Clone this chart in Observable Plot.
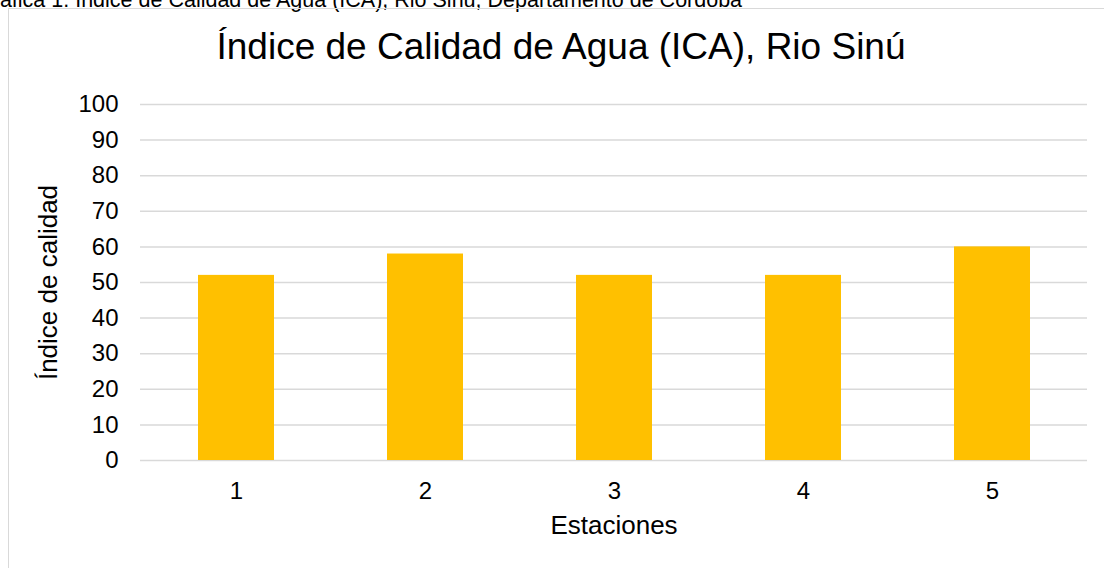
<!DOCTYPE html>
<html>
<head>
<meta charset="utf-8">
<script src="https://cdn.jsdelivr.net/npm/d3@7"></script>
<script src="https://cdn.jsdelivr.net/npm/@observablehq/plot@0.6"></script>
<style>
  html, body { margin: 0; padding: 0; background: #fff; overflow: hidden; }
  body { width: 1104px; height: 568px; position: relative; font-family: "Liberation Sans", Arial, sans-serif; }
  #caption { position: absolute; left: -24px; top: -12.5px; font-size: 21.5px; line-height: 24px; white-space: nowrap; color: #000; }
  #frame { position: absolute; left: 8px; top: 8px; width: 1120px; height: 600px; border: 1px solid #d9d9d9; box-sizing: border-box; }
  #title { position: absolute; left: 0; width: 1122px; top: 25px; text-align: center; font-size: 37px; line-height: 44px; color: #000; white-space: nowrap; }
  #chart { position: absolute; left: 0; top: 0; }
</style>
</head>
<body>
<div id="caption">Gráfica 1. Índice de Calidad de Agua (ICA), Rio Sinú, Departamento de Córdoba</div>
<div id="frame"></div>
<div id="title">Índice de Calidad de Agua (ICA), Rio Sinú</div>
<div id="chart"></div>
<script>
const estaciones = ["1", "2", "3", "4", "5"];
const ica = [52, 58, 52, 52, 60];
const yTicks = [0, 10, 20, 30, 40, 50, 60, 70, 80, 90, 100];
const xTitle = "Estaciones";
const yTitle = "Índice de calidad";

const data = estaciones.map((e, i) => ({estacion: e, valor: ica[i]}));

const chart = Plot.plot({
  width: 1104,
  height: 568,
  marginLeft: 140,
  marginRight: 17,
  marginTop: 104,
  marginBottom: 108,
  style: {fontFamily: "Liberation Sans, Arial, sans-serif", color: "#000", background: "transparent", overflow: "visible"},
  x: {domain: estaciones, paddingInner: 0.6, paddingOuter: 0.3, label: null},
  y: {domain: [0, 100], label: null},
  marks: [
    Plot.gridY(yTicks, {stroke: "#d9d9d9", strokeOpacity: 1, strokeWidth: 1.5}),
    Plot.barY(data, {x: "estacion", y: "valor", fill: "#FFC000"}),
    Plot.axisY(yTicks, {tickSize: 0, tickPadding: 22, fontSize: 24, label: null}),
    Plot.axisX({tickSize: 0, tickPadding: 21, fontSize: 24, label: null}),
    Plot.text([yTitle], {frameAnchor: "left", textAnchor: "middle", lineAnchor: "middle", rotate: -90, dx: -92, fontSize: 26}),
    Plot.text([xTitle], {frameAnchor: "bottom", textAnchor: "middle", lineAnchor: "middle", dy: 65, fontSize: 26})
  ]
});
document.getElementById("chart").appendChild(chart);
</script>
</body>
</html>
